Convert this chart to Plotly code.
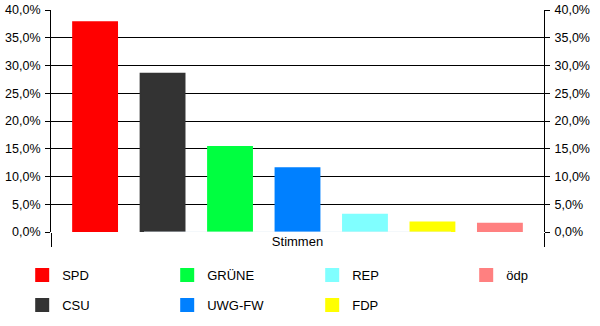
import plotly.graph_objects as go

categories = ["Stimmen"]
parties = ["SPD", "CSU", "GRÜNE", "UWG-FW", "REP", "FDP", "ödp"]
values = [37.8, 28.5, 15.3, 11.5, 3.1, 1.7, 1.5]
colors = ["#FF0000", "#333333", "#00FF40", "#0080FF", "#80FFFF", "#FFFF00", "#FF8080"]
legend_row = ["legend", "legend2", "legend", "legend2", "legend", "legend2", "legend3"]
tick_vals = [0, 0.05, 0.10, 0.15, 0.20, 0.25, 0.30, 0.35, 0.40]

FONT = "Liberation Sans, Arial, sans-serif"

fig = go.Figure()
for p, v, c, lg in zip(parties, values, colors, legend_row):
    fig.add_trace(go.Bar(
        x=categories, y=[v / 100], name=p, marker=dict(color=c, line=dict(width=2, color=c)),
        legend=lg, hoverinfo="skip",
    ))
# invisible trace for right axis
fig.add_trace(go.Bar(x=categories, y=[0], yaxis="y2", showlegend=False,
                     marker=dict(color="rgba(0,0,0,0)"), hoverinfo="skip"))

axis_common = dict(
    range=[0, 0.4], tickvals=tick_vals, tickformat=".1%",
    ticks="outside", ticklen=5, tickcolor="black", tickwidth=1,
    showline=True, linecolor="black", linewidth=1,
    tickfont=dict(family=FONT, size=12.5, color="#000"),
    ticklabelstandoff=2,
    zeroline=False, fixedrange=True,
)

leg_common = dict(orientation="h", xref="container", yref="container",
                  xanchor="left", yanchor="top", entrywidth=100,
                  font=dict(family=FONT, size=13, color="#000"),
                  bgcolor="rgba(0,0,0,0)", borderwidth=0)

fig.update_layout(
    width=600, height=326,
    margin=dict(l=51, r=56, t=10, b=94, autoexpand=False),
    paper_bgcolor="white", plot_bgcolor="white",
    separators=",.",
    barmode="group", bargap=0.042, bargroupgap=0.35,
    font=dict(family=FONT, size=13, color="#000"),
    xaxis=dict(
        type="category", range=[-0.5, 0.5], tickson="boundaries",
        ticks="outside", ticklen=14, tickcolor="black", tickwidth=1,
        showline=False, showgrid=False, zeroline=False,
        tickfont=dict(family=FONT, size=13, color="#000"), fixedrange=True,
    ),
    yaxis=dict(**axis_common, side="left", showgrid=True, gridcolor="black", gridwidth=1),
    yaxis2=dict(**axis_common, side="right", overlaying="y", showgrid=False),
    legend=dict(**leg_common, x=0.037, y=0.202),
    legend2=dict(**leg_common, x=0.037, y=0.11),
    legend3=dict(**leg_common, x=0.777, y=0.202),
)

fig.write_html("out.html")
